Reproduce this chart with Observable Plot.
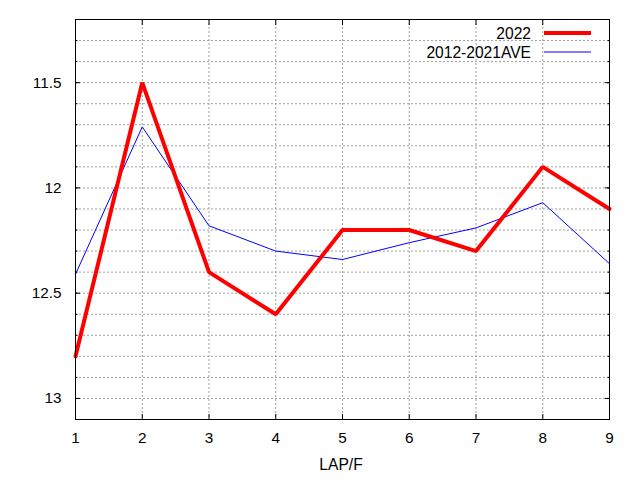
<!DOCTYPE html>
<html>
<head>
<meta charset="utf-8">
<script src="https://cdn.jsdelivr.net/npm/d3@7"></script>
<script src="https://cdn.jsdelivr.net/npm/@observablehq/plot@0.6"></script>
<style>
  html, body { margin: 0; padding: 0; background: #fff; }
  #chart { position: relative; width: 640px; height: 480px; }
  svg { font-family: "Liberation Sans", Arial, sans-serif; }
</style>
</head>
<body>
<div id="chart"></div>
<script>
const laps = [1, 2, 3, 4, 5, 6, 7, 8, 9];
const series2022 = [12.8, 11.5, 12.4, 12.6, 12.2, 12.2, 12.3, 11.9, 12.1];
const seriesAve = [12.41, 11.71, 12.18, 12.30, 12.34, 12.26, 12.19, 12.07, 12.36];
const seriesNames = ["2022", "2012-2021AVE"];
const yMajorTicks = [11.5, 12, 12.5, 13];
const yGrid = [11.3, 11.4, 11.5, 11.6, 11.7, 11.8, 11.9, 12.0, 12.1, 12.2, 12.3, 12.4, 12.5, 12.6, 12.7, 12.8, 12.9, 13.0];
const yDomain = [11.2, 13.1];
const xDomain = [1, 9];

const data2022 = laps.map((lap, i) => ({lap, v: series2022[i]}));
const dataAve = laps.map((lap, i) => ({lap, v: seriesAve[i]}));

const grid = {stroke: "#a0a0a0", strokeOpacity: 1, strokeWidth: 1, strokeDasharray: "2,2"};

const chart = Plot.plot({
  width: 640,
  height: 480,
  marginLeft: 75,
  marginRight: 31,
  marginTop: 19,
  marginBottom: 61,
  style: {fontFamily: "Liberation Sans, Arial, sans-serif", fontSize: "15px", color: "#000", background: "#fff"},
  x: {domain: xDomain, label: null},
  y: {domain: yDomain, reverse: true, label: null},
  marks: [
    Plot.ruleY(yGrid, {...grid}),
    Plot.ruleX(laps.slice(1, -1), {...grid}),
    Plot.axisY(yGrid, {anchor: "left", tickSize: -2.5, tickPadding: 0, tickFormat: () => "", strokeWidth: 1}),
    Plot.axisY(yGrid, {anchor: "right", tickSize: -2.5, tickPadding: 0, tickFormat: () => "", strokeWidth: 1}),
    Plot.axisY(yMajorTicks, {anchor: "left", tickSize: -5, tickPadding: 19, tickFormat: d => String(d), fontSize: 15.3, strokeWidth: 1}),
    Plot.axisY(yMajorTicks, {anchor: "right", tickSize: -5, tickPadding: 0, tickFormat: () => "", strokeWidth: 1}),
    Plot.axisX(laps, {anchor: "bottom", tickSize: -5, tickPadding: 18, tickFormat: d => String(d), fontSize: 15.3, strokeWidth: 1}),
    Plot.axisX(laps, {anchor: "top", tickSize: -5, tickPadding: 0, tickFormat: () => "", strokeWidth: 1}),
    Plot.line(dataAve, {x: "lap", y: "v", stroke: "#0000ff", strokeWidth: 1}),
    Plot.line(data2022, {x: "lap", y: "v", stroke: "#ff0000", strokeWidth: 4, strokeLinejoin: "miter"}),
    Plot.frame({stroke: "#000", strokeWidth: 1})
  ]
});

const svg = d3.select(chart);
svg.append("text")
  .attr("x", 341).attr("y", 470)
  .attr("text-anchor", "middle")
  .attr("font-size", 15.6)
  .attr("fill", "#000")
  .text("LAP/F");

const legendColors = ["#ff0000", "#0000ff"];
const legendWidths = [4, 1];
seriesNames.forEach((name, i) => {
  const yy = 33 + i * 19;
  svg.append("text")
    .attr("x", 531).attr("y", yy + 5.5)
    .attr("text-anchor", "end")
    .attr("font-size", 15.6)
    .attr("fill", "#000")
    .text(name);
  svg.append("line")
    .attr("x1", 544).attr("x2", 591)
    .attr("y1", yy).attr("y2", yy)
    .attr("stroke", legendColors[i])
    .attr("stroke-width", legendWidths[i]);
});

document.getElementById("chart").appendChild(chart);
</script>
</body>
</html>
